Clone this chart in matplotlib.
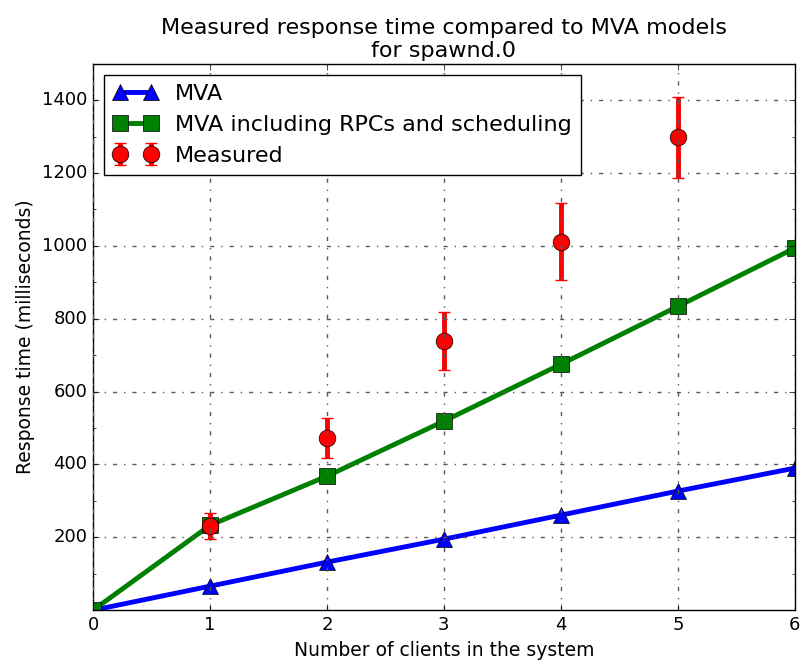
import numpy as np
import matplotlib
matplotlib.use("Agg")
import matplotlib.pyplot as plt

plt.style.use("classic")

clients = [0, 1, 2, 3, 4, 5, 6]
mva = [0, 66, 132, 195, 261, 327, 390]
mva_rpc = [0, 233, 368, 519, 675, 834, 994]

meas_x = [1, 2, 3, 4, 5]
measured = [231, 472, 738, 1012, 1298]
meas_err = [35, 55, 80, 105, 112]

fig = plt.figure(figsize=(8.02, 6.64), dpi=100)
ax = fig.add_axes([0.116, 0.081, 0.875, 0.823])

ax.plot(clients, mva, color="blue", lw=3.5, marker="^", ms=12, label="MVA")
ax.plot(clients, mva_rpc, color="green", lw=3.5, marker="s", ms=12,
        label="MVA including RPCs and scheduling")
ax.errorbar(meas_x, measured, yerr=meas_err, fmt="o", color="red", ms=12,
            elinewidth=3.5, capsize=4, capthick=1, label="Measured")

ax.set_xlim(0, 6)
ax.set_ylim(0, 1500)
ax.set_yticks([200, 400, 600, 800, 1000, 1200, 1400])
ax.set_yticks(np.arange(100, 1500, 100), minor=True)
ax.grid(True, which="major", ls="-.", color="0.35", lw=1)

ax.tick_params(labelsize=13)
ax.set_xlabel("Number of clients in the system", fontsize=13.5)
ax.set_ylabel("Response time (milliseconds)", fontsize=13.5)
ax.set_title("Measured response time compared to MVA models\nfor spawnd.0", fontsize=16)

ax.legend(loc="upper left", numpoints=2, fontsize=16)

fig.savefig("out.png", dpi=100)
